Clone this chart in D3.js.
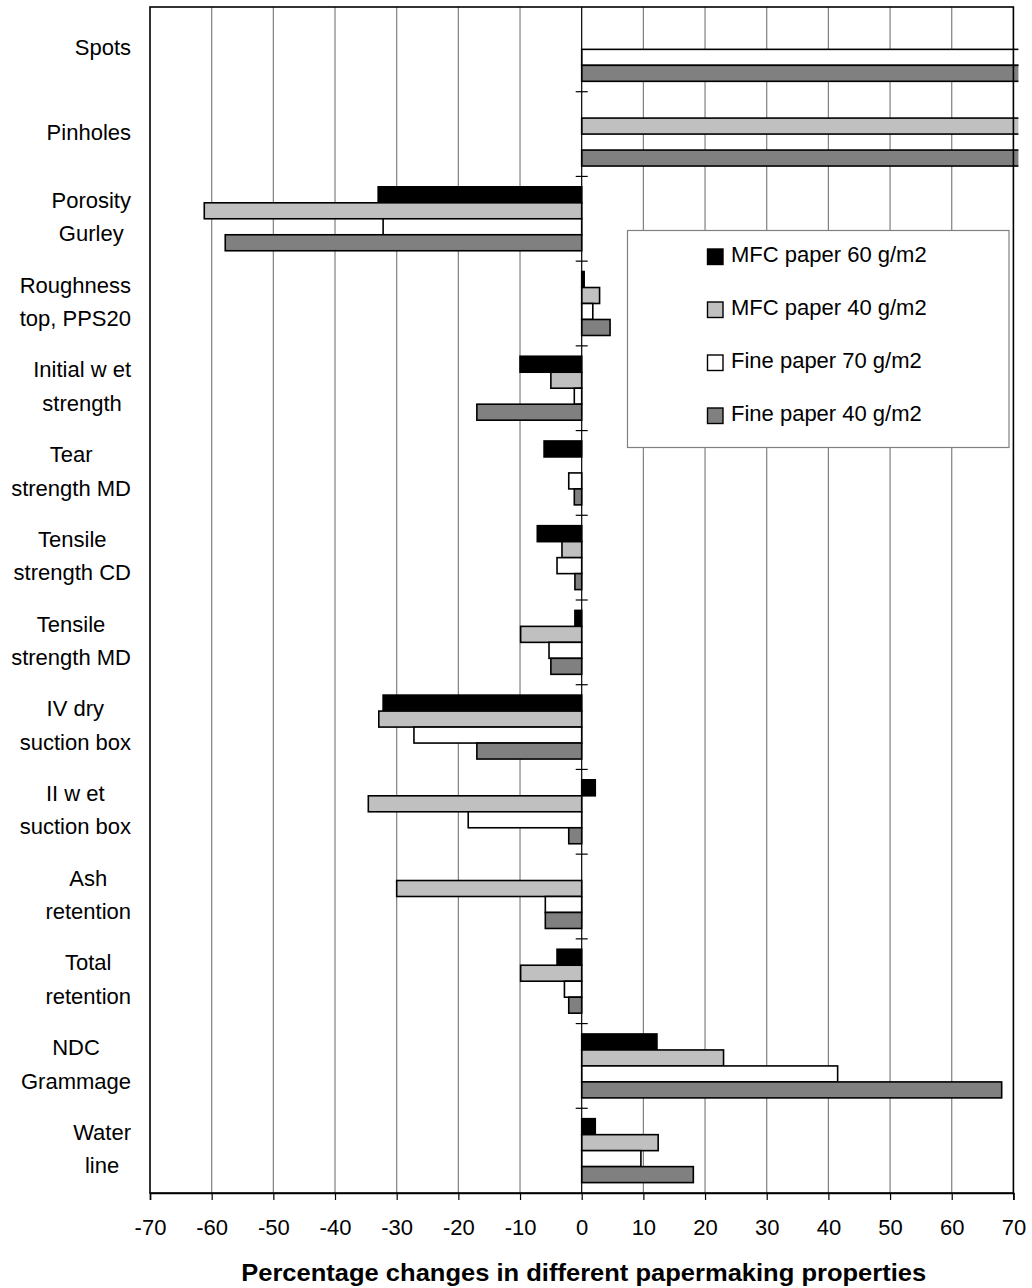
<!DOCTYPE html>
<html>
<head>
<meta charset="utf-8">
<script src="https://cdn.jsdelivr.net/npm/d3@7"></script>
<style>
  html, body { margin: 0; padding: 0; background: #fff; }
  svg { display: block; font-family: "Liberation Sans", Arial, sans-serif; }
</style>
</head>
<body>
<svg id="chart" width="1032" height="1288"></svg>
<script>
// ---- Data ----
const categories = [
  "Spots", "Pinholes", "Porosity\nGurley", "Roughness\ntop, PPS20",
  "Initial w et\nstrength", "Tear\nstrength MD", "Tensile\nstrength CD",
  "Tensile\nstrength MD", "IV dry\nsuction box", "II w et\nsuction box",
  "Ash\nretention", "Total\nretention", "NDC\nGrammage", "Water\nline"
];
const seriesNames = ["MFC paper 60 g/m2", "MFC paper 40 g/m2", "Fine paper 70 g/m2", "Fine paper 40 g/m2"];
const seriesColors = ["#000000", "#c0c0c0", "#ffffff", "#808080"];
// values beyond +70 run off the chart (clipped)
const mfc60  = [null, null, -33.0, 0.4, -10.0, -6.1, -7.2, -1.1, -32.2, 2.2, null, -4.0, 12.2, 2.2];
const mfc40  = [null, 100, -61.2, 2.9, -5.0, null, -3.2, -9.9, -32.9, -34.6, -30.0, -9.9, 23.0, 12.4];
const fine70 = [100, null, -32.2, 1.8, -1.2, -2.1, -4.0, -5.3, -27.2, -18.4, -5.9, -2.8, 41.5, 9.6];
const fine40 = [100, 100, -57.8, 4.6, -17.0, -1.2, -1.1, -5.0, -17.0, -2.1, -5.9, -2.1, 68.1, 18.1];
const xTicks = [-70, -60, -50, -40, -30, -20, -10, 0, 10, 20, 30, 40, 50, 60, 70];
const xTitle = "Percentage changes in different papermaking properties";

const seriesValues = [mfc60, mfc40, fine70, fine40];

// ---- Layout ----
const svg = d3.select("#chart");
const L = 150, R = 1013.4, T = 7, B = 1193;

const x = d3.scaleLinear().domain([-70, 70]).range([L, R]);
const y = d3.scaleBand().domain(categories).range([T, B]).paddingInner(0).paddingOuter(0);
const ySub = d3.scaleBand().domain(seriesNames).range([0, y.bandwidth()]).paddingInner(0).paddingOuter(0.65);

// clip
svg.append("defs").append("clipPath").attr("id", "plotclip")
  .append("rect").attr("x", L).attr("y", T).attr("width", R - L + 5).attr("height", B - T);

// gridlines
svg.append("g").selectAll("line")
  .data(xTicks.filter(d => d !== -70 && d !== 70 && d !== 0))
  .join("line")
  .attr("x1", d => x(d)).attr("x2", d => x(d))
  .attr("y1", T).attr("y2", B)
  .attr("stroke", "#808080").attr("stroke-width", 1.2);

// bars
const barData = [];
categories.forEach((c, ci) => {
  seriesNames.forEach((s, si) => {
    const v = seriesValues[si][ci];
    if (v !== null && v !== undefined) barData.push({ c, s, si, v });
  });
});
svg.append("g").attr("clip-path", "url(#plotclip)")
  .selectAll("rect").data(barData).join("rect")
  .attr("x", d => x(Math.min(0, d.v)))
  .attr("width", d => Math.abs(x(d.v) - x(0)))
  .attr("y", d => y(d.c) + ySub(d.s))
  .attr("height", ySub.bandwidth())
  .attr("fill", d => seriesColors[d.si])
  .attr("stroke", "#000").attr("stroke-width", 1.6);

// zero (category) axis with crossing ticks
const x0 = x(0);
svg.append("line").attr("x1", x0).attr("x2", x0).attr("y1", T).attr("y2", B)
  .attr("stroke", "#000").attr("stroke-width", 1.2);
svg.append("g").selectAll("line")
  .data(categories.slice(1))
  .join("line")
  .attr("x1", x0 - 6).attr("x2", x0 + 6)
  .attr("y1", d => y(d)).attr("y2", d => y(d))
  .attr("stroke", "#000").attr("stroke-width", 1.2);

// plot border
svg.append("rect").attr("x", L).attr("y", T).attr("width", R - L).attr("height", B - T)
  .attr("fill", "none").attr("stroke", "#000").attr("stroke-width", 1.6);

// x axis
const xAxis = d3.axisBottom(x).tickValues(xTicks).tickSize(7).tickPadding(19).tickFormat(d => String(d));
const gx = svg.append("g").attr("transform", `translate(0,${B})`).call(xAxis);
gx.select(".domain").attr("stroke", "#000").attr("stroke-width", 1.6);
gx.selectAll(".tick line").attr("stroke", "#000").attr("stroke-width", 1.2);
gx.selectAll(".tick text").attr("font-size", 22).attr("font-family", "Liberation Sans, Arial, sans-serif")
  .attr("fill", "#000").attr("dy", "0.72em");

// x title
svg.append("text").attr("x", (L + R) / 2 + 2).attr("y", 1281)
  .attr("text-anchor", "middle").attr("font-size", 24).attr("font-weight", "bold")
  .attr("textLength", 685).attr("lengthAdjust", "spacingAndGlyphs")
  .attr("fill", "#000").text(xTitle);

// category labels
const labelRight = 131, lineH = 33.5;
categories.forEach(c => {
  const lines = c.split("\n");
  const g = svg.append("g");
  const texts = lines.map(t => g.append("text").attr("font-size", 22).attr("fill", "#000").text(t));
  const maxW = d3.max(texts, t => t.node().getComputedTextLength());
  const cx = labelRight - maxW / 2;
  const cy = y(c) + y.bandwidth() / 2 - 2;
  texts.forEach((t, i) => {
    t.attr("x", cx).attr("text-anchor", "middle")
      .attr("y", cy + (i - (lines.length - 1) / 2) * lineH)
      .attr("dy", "0.36em");
  });
});

// legend
const lg = svg.append("g");
lg.append("rect").attr("x", 627.5).attr("y", 230.5).attr("width", 381.5).attr("height", 217)
  .attr("fill", "#fff").attr("stroke", "#808080").attr("stroke-width", 1.2);
seriesNames.forEach((s, i) => {
  const cy = 257 + i * 53;
  lg.append("rect").attr("x", 707.5).attr("y", cy - 8).attr("width", 15.5).attr("height", 15.5)
    .attr("fill", seriesColors[i]).attr("stroke", "#000").attr("stroke-width", 1.4);
  lg.append("text").attr("x", 731).attr("y", cy + 5).attr("font-size", 22).attr("fill", "#000").text(s);
});
</script>
</body>
</html>
